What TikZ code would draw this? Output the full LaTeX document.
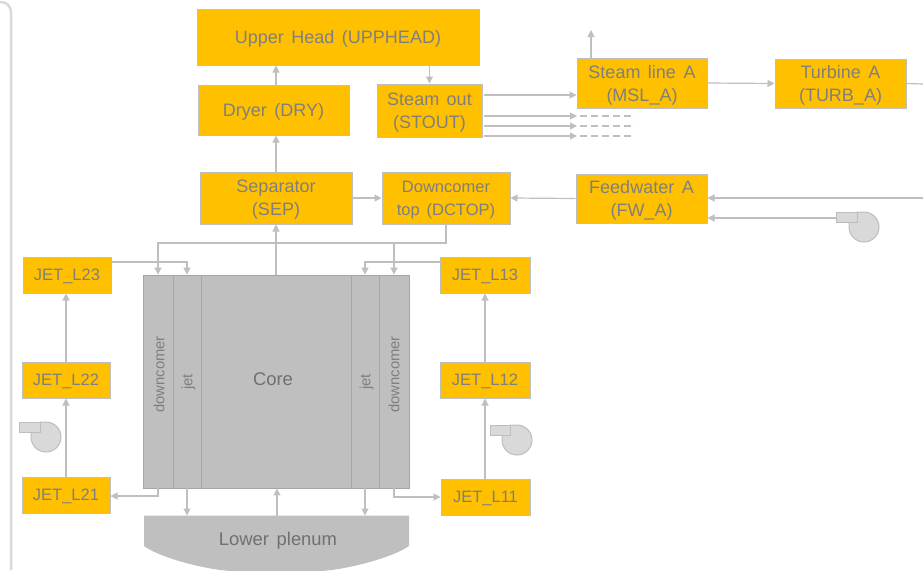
\documentclass[tikz,border=0pt]{standalone}
\usepackage{fontspec}
\setmainfont[WordSpace=1.5]{Liberation Sans}
\usetikzlibrary{arrows.meta}
\definecolor{boxfill}{HTML}{FFC000}
\definecolor{boxline}{HTML}{BFBFBF}
\definecolor{txt}{HTML}{7F7F7F}
\definecolor{txtdark}{HTML}{707070}
\definecolor{corefill}{HTML}{BFBFBF}
\definecolor{coreline}{HTML}{A6A6A6}
\definecolor{pumpfill}{HTML}{D9D9D9}
\definecolor{pumpline}{HTML}{BDBDBD}
\tikzset{
 x=1pt,y=-1pt,
 box/.style={draw=boxline,line width=1pt,fill=boxfill,text=txt,inner sep=0pt,align=center,text depth=0pt,font=\fontsize{18}{23}\selectfont},
 jetbox/.style={box,minimum width=88pt,minimum height=36pt,font=\fontsize{16.5}{18}\selectfont},
 conn/.style={draw=boxline,line width=1.2pt,-{Triangle[length=7pt,width=7pt,fill=boxline]}},
 plain/.style={draw=boxline,line width=1.2pt},
 dashline/.style={draw=boxline,line width=1.1pt,dash pattern=on 7pt off 4pt},
 corepart/.style={draw=coreline,line width=.9pt,fill=corefill,inner sep=0pt},
 pumppart/.style={draw=pumpline,line width=1pt,fill=pumpfill},
 vlabel/.style={text=txt,rotate=90,inner sep=0pt,font=\fontsize{14.8}{16}\selectfont},
 biglabel/.style={text=txtdark,inner sep=0pt,font=\fontsize{18.4}{20}\selectfont}
}
\begin{document}
\begin{tikzpicture}
\useasboundingbox (0,0) rectangle (923,570);
\draw[draw=pumpfill,line width=2.5pt] (11,570) -- (11,12) arc[start angle=0,end angle=-90,radius=10] -- (0,2);
% core block
\node[corepart,minimum width=30pt,minimum height=213pt] (dcl) at (158,381.5) {};
\node[corepart,minimum width=28pt,minimum height=213pt] (jl) at (187,381.5) {};
\node[corepart,minimum width=150pt,minimum height=213pt] (core) at (276,381.5) {};
\node[corepart,minimum width=28pt,minimum height=213pt] (jr) at (365,381.5) {};
\node[corepart,minimum width=30pt,minimum height=213pt] (dcr) at (394,381.5) {};
\node[vlabel] (lbl1) at (159,374.5) {downcomer};
\node[vlabel] (lbl2) at (188.5,382) {jet};
\node[vlabel] (lbl3) at (366.5,382) {jet};
\node[vlabel] (lbl4) at (394,374.5) {downcomer};
\node[biglabel] (lblcore) at (273,379.5) {Core};
% lower plenum
\fill[corefill] (144,515.5) -- (409,515.5) -- (409,546) .. controls (392,558) and (345,570) .. (320,571) -- (232,571) .. controls (207,570) and (160,558) .. (144,546) -- cycle;
\coordinate (lp) at (277,515.5);
\node[biglabel] (lbllp) at (278,541) {Lower plenum};
% boxes
\node[box,minimum width=282pt,minimum height=56pt] (upp) at (338,37) {Upper Head (UPPHEAD)};
\node[box,minimum width=151pt,minimum height=50pt] (dry) at (273.5,110) {Dryer (DRY)};
\node[box,minimum width=105pt,minimum height=53pt] (stout) at (429.5,110.5) {Steam out\\(STOUT)};
\node[box,minimum width=130pt,minimum height=50pt] (msl) at (642,83) {Steam line A\\(MSL\_A)};
\node[box,minimum width=131pt,minimum height=49pt] (turb) at (840.5,83.5) {Turbine A\\(TURB\_A)};
\node[box,minimum width=152pt,minimum height=52pt] (sep) at (276,198) {Separator\\(SEP)};
\node[box,minimum width=128pt,minimum height=52pt,font=\fontsize{16.5}{23}\selectfont] (dctop) at (446,198) {Downcomer\\top (DCTOP)};
\node[box,minimum width=131pt,minimum height=49pt] (fw) at (641.5,198.5) {Feedwater A\\(FW\_A)};
\node[jetbox] (l23) at (67,275) {JET\_L23};
\node[jetbox] (l22) at (66,380) {JET\_L22};
\node[jetbox] (l21) at (66,495) {JET\_L21};
\node[jetbox,minimum width=90pt] (l13) at (485,275) {JET\_L13};
\node[jetbox,minimum width=90pt] (l12) at (485,380) {JET\_L12};
\node[jetbox,minimum width=89pt] (l11) at (485.5,497) {JET\_L11};
% free ends
\coordinate (mslup) at (591,30);
\coordinate (rtop) at (923,84);
\coordinate (rfw) at (923,198);
\coordinate (stend1) at (577,116);
\coordinate (stend2) at (577,126);
\coordinate (stend3) at (577,136);
% connectors
\draw[conn] (core.north -| sep.south) -- (sep.south);
\draw[conn] (sep.north) -- (sep.north |- dry.south);
\draw[conn] (dry.north -| sep.north) -- (sep.north |- upp.south);
\draw[conn] (stout.north |- upp.south) -- (stout.north);
\draw[conn] (484,95) -- (msl.west |- 0,95);
\draw[conn] (484,116) -- (stend1);
\draw[conn] (484,126) -- (stend2);
\draw[conn] (484,136) -- (stend3);
\draw[dashline] (580,116) -- (635,116);
\draw[dashline] (580,126) -- (635,126);
\draw[dashline] (580,136) -- (635,136);
\draw[conn] (msl.north -| mslup) -- (mslup);
\draw[conn] (msl.east) -- (turb.west);
\draw[plain] (turb.east) -- (rtop);
\draw[conn] (sep.east) -- (dctop.west);
\draw[conn] (fw.west) -- (dctop.east);
\draw[conn] (rfw) -- (fw.east |- rfw);
\draw[conn] (838,218) -- (fw.east |- 0,218);
\draw[conn] (dctop.south) -- (446,243) -- (158,243) -- (dcl.north);
\draw[conn] (394,243) -- (dcr.north);
\draw[conn] (l23.east |- 0,262) -- (187,262) -- (jl.north);
\draw[conn] (l13.west |- 0,262) -- (365,262) -- (jr.north);
\draw[conn] (dcl.south) -- (158,496) -- (l21.east |- 0,496);
\draw[conn] (dcr.south) -- (394,497) -- (l11.west);
\draw[conn] (jl.south) -- (jl.south |- lp);
\draw[conn] (jr.south) -- (jr.south |- lp);
\draw[conn] (lp) -- (lp |- core.south);
\draw[conn] (l22.north) -- (l22.north |- l23.south);
\draw[conn] (l21.north) -- (l22.south);
\draw[conn] (l11.north -| l12.south) -- (l12.south);
\draw[conn] (l12.north) -- (l13.south);
% pumps (y axis points down, so the angle -90 is the top of the circle)
\draw[pumppart] (46,422) arc[start angle=-90,end angle=180,radius=15] -- (31,432) -- (40,432) -- (40,422) -- cycle;
\draw[pumppart] (19,422) rectangle (40,432);
\draw[pumppart] (517,425) arc[start angle=-90,end angle=180,radius=15] -- (502,435) -- (510,435) -- (510,425) -- cycle;
\draw[pumppart] (490,425) rectangle (510,435);
\draw[pumppart] (864,212) arc[start angle=-90,end angle=180,radius=15] -- (849,222) -- (857,222) -- (857,212) -- cycle;
\draw[pumppart] (836,212) rectangle (857,222);
\end{tikzpicture}
\end{document}
